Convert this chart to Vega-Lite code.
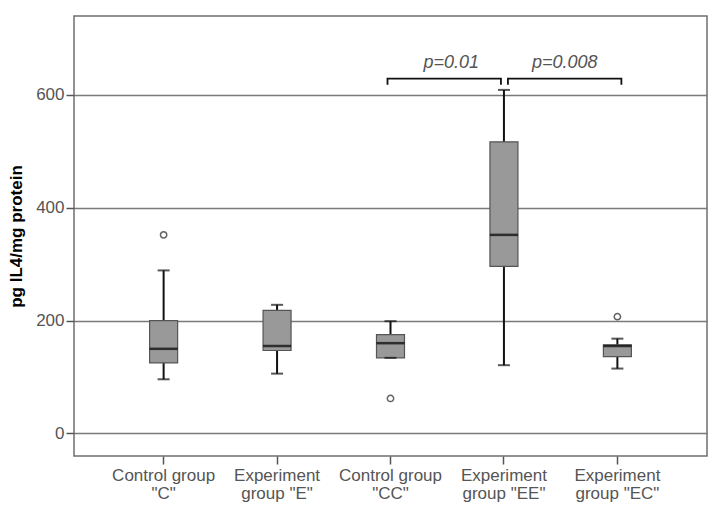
{
  "$schema": "https://vega.github.io/schema/vega-lite/v6.json",
  "autosize": "none",
  "width": 633,
  "height": 440,
  "padding": {"left": 74, "top": 16, "right": 12, "bottom": 54},
  "background": "white",
  "config": {
    "view": {"stroke": "#6f6f6f", "strokeWidth": 1.5},
    "font": "Liberation Sans"
  },
  "datasets": {
    "boxes": [
      {"g": "Control group \"C\"", "lower": 96, "q1": 125, "median": 150, "q3": 200, "upper": 289},
      {"g": "Experiment group \"E\"", "lower": 106, "q1": 147, "median": 155, "q3": 218, "upper": 228},
      {"g": "Control group \"CC\"", "lower": 134, "q1": 134, "median": 160, "q3": 175, "upper": 199},
      {"g": "Experiment group \"EE\"", "lower": 121, "q1": 296, "median": 352, "q3": 517, "upper": 609},
      {"g": "Experiment group \"EC\"", "lower": 115, "q1": 136, "median": 155, "q3": 157, "upper": 168}
    ],
    "outliers": [
      {"g": "Control group \"C\"", "v": 352},
      {"g": "Control group \"CC\"", "v": 62},
      {"g": "Experiment group \"EC\"", "v": 207}
    ],
    "brackets": [
      {"b": 1, "k": 1, "g": "Control group \"CC\"", "y": 618},
      {"b": 1, "k": 2, "g": "Control group \"CC\"", "y": 629},
      {"b": 1, "k": 3, "g": "Experiment group \"EE\"", "y": 629},
      {"b": 1, "k": 4, "g": "Experiment group \"EE\"", "y": 618},
      {"b": 2, "k": 1, "g": "Experiment group \"EE\"", "y": 618},
      {"b": 2, "k": 2, "g": "Experiment group \"EE\"", "y": 629},
      {"b": 2, "k": 3, "g": "Experiment group \"EC\"", "y": 629},
      {"b": 2, "k": 4, "g": "Experiment group \"EC\"", "y": 618}
    ],
    "labels": [
      {"g": "Control group \"CC\"", "t": "p=0.01", "y": 656},
      {"g": "Experiment group \"EE\"", "t": "p=0.008", "y": 656}
    ]
  },
  "encoding": {
    "x": {
      "field": "g",
      "type": "nominal",
      "scale": {
        "domain": ["Control group \"C\"", "Experiment group \"E\"", "Control group \"CC\"", "Experiment group \"EE\"", "Experiment group \"EC\""],
        "paddingInner": 0,
        "paddingOuter": 0.29
      },
      "axis": {
        "title": null,
        "labelAngle": 0,
        "domain": false,
        "grid": false,
        "ticks": true,
        "tickSize": 8,
        "tickWidth": 1.5,
        "tickColor": "#555555",
        "labelPadding": 3,
        "labelFont": "Liberation Sans",
        "labelFontSize": 17,
        "labelLineHeight": 18,
        "labelColor": "#555555",
        "labelExpr": "indexof(datum.label,'Control')==0 ? ['Control group', substring(datum.label,14)] : ['Experiment', substring(datum.label,11)]"
      }
    }
  },
  "layer": [
    {
      "data": {"name": "boxes"},
      "mark": {"type": "rule", "color": "#111111", "strokeWidth": 2},
      "encoding": {
        "y": {
          "field": "lower",
          "type": "quantitative",
          "scale": {"domain": [-40, 740], "nice": false, "zero": false},
          "axis": {
            "values": [0, 200, 400, 600],
            "grid": true,
            "gridColor": "#7a7a7a",
            "gridWidth": 1.5,
            "domain": false,
            "ticks": true,
            "tickSize": 8,
            "tickWidth": 1.5,
            "tickColor": "#555555",
            "labelPadding": 2,
            "labelFont": "Liberation Sans",
            "labelFontSize": 17,
            "labelColor": "#555555",
            "title": "pg IL4/mg protein",
            "titleFont": "Liberation Sans",
            "titleFontSize": 17,
            "titleFontWeight": "bold",
            "titleColor": "#000000",
            "titlePadding": 10
          }
        },
        "y2": {"field": "upper"}
      }
    },
    {
      "data": {"name": "boxes"},
      "mark": {"type": "bar", "size": 28, "fill": "#999999", "stroke": "#555555", "strokeWidth": 1.2},
      "encoding": {
        "y": {"field": "q1", "type": "quantitative"},
        "y2": {"field": "q3"}
      }
    },
    {
      "data": {"name": "boxes"},
      "mark": {"type": "tick", "size": 28, "thickness": 2.5, "color": "#000000"},
      "encoding": {
        "y": {"field": "median", "type": "quantitative"}
      }
    },
    {
      "data": {"name": "boxes"},
      "mark": {"type": "tick", "size": 12, "thickness": 2, "color": "#111111"},
      "encoding": {
        "y": {"field": "upper", "type": "quantitative"}
      }
    },
    {
      "data": {"name": "boxes"},
      "mark": {"type": "tick", "size": 12, "thickness": 2, "color": "#111111"},
      "encoding": {
        "y": {"field": "lower", "type": "quantitative"}
      }
    },
    {
      "data": {"name": "outliers"},
      "mark": {"type": "point", "shape": "circle", "filled": false, "size": 40, "stroke": "#222222", "strokeWidth": 1.5},
      "encoding": {
        "y": {"field": "v", "type": "quantitative"}
      }
    },
    {
      "data": {"name": "brackets"},
      "transform": [{"filter": "datum.b == 1"}],
      "mark": {"type": "line", "color": "#111111", "strokeWidth": 1.8, "xOffset": -3},
      "encoding": {
        "y": {"field": "y", "type": "quantitative"},
        "order": {"field": "k"}
      }
    },
    {
      "data": {"name": "brackets"},
      "transform": [{"filter": "datum.b == 2"}],
      "mark": {"type": "line", "color": "#111111", "strokeWidth": 1.8, "xOffset": 4},
      "encoding": {
        "y": {"field": "y", "type": "quantitative"},
        "order": {"field": "k"}
      }
    },
    {
      "data": {"name": "labels"},
      "mark": {"type": "text", "font": "Liberation Sans", "fontSize": 18, "fontStyle": "italic", "color": "#555555", "baseline": "middle", "align": "center", "dx": 4},
      "encoding": {
        "x": {"field": "g", "type": "nominal", "bandPosition": 1},
        "y": {"field": "y", "type": "quantitative"},
        "text": {"field": "t"}
      }
    }
  ]
}
